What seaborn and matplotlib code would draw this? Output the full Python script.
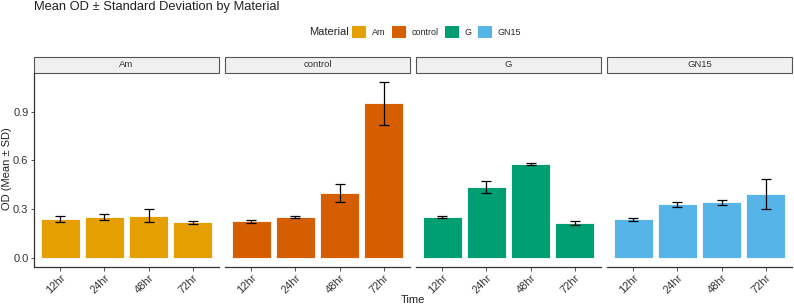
import numpy as np
import pandas as pd
import matplotlib
matplotlib.use('Agg')
import matplotlib.pyplot as plt
import seaborn as sns
from matplotlib.patches import Rectangle, Patch

# values
materials = ['Am', 'control', 'G', 'GN15']
times = ['12hr', '24hr', '48hr', '72hr']
mean_am = [0.240, 0.251, 0.259, 0.218]
sd_am = [0.018, 0.020, 0.040, 0.011]
mean_control = [0.226, 0.251, 0.399, 0.952]
sd_control = [0.009, 0.008, 0.054, 0.133]
mean_g = [0.251, 0.436, 0.578, 0.216]
sd_g = [0.008, 0.037, 0.008, 0.013]
mean_gn15 = [0.238, 0.329, 0.341, 0.393]
sd_gn15 = [0.010, 0.016, 0.014, 0.093]
colors = ['#E69F00', '#D55E00', '#009E73', '#56B4E9']

df = pd.DataFrame({
    'Material': np.repeat(materials, len(times)),
    'Time': times * len(materials),
    'OD': mean_am + mean_control + mean_g + mean_gn15,
    'SD': sd_am + sd_control + sd_g + sd_gn15,
})

sns.set_style('white')
plt.rcParams['font.family'] = ['Liberation Sans', 'DejaVu Sans']

W, H = 794, 306
fig = plt.figure(figsize=(W / 100, H / 100), dpi=100)

lefts = [34, 225, 416, 607]
pw = 185
top_px, bot_px = 72.7, 266.7
strip_h = 15.5

for i, mat in enumerate(materials):
    ax = fig.add_axes([lefts[i] / W, 1 - bot_px / H, pw / W, (bot_px - top_px) / H])
    sub = df[df['Material'] == mat]
    sns.barplot(data=sub, x='Time', y='OD', order=times, color=colors[i],
                width=0.9, errorbar=None, saturation=1, ax=ax,
                edgecolor='white', linewidth=0.6)
    ax.errorbar(np.arange(len(times)), sub['OD'].values, yerr=sub['SD'].values,
                fmt='none', ecolor='black', elinewidth=0.9, capsize=3.6, capthick=0.9)
    ax.set_xlim(-0.6, 3.6)
    ax.set_ylim(-0.055, 1.14)
    ax.set_xlabel('')
    ax.set_ylabel('')
    for s in ['top', 'right']:
        ax.spines[s].set_visible(False)
    ax.spines['bottom'].set_color('#333333')
    ax.spines['bottom'].set_linewidth(0.9)
    ax.tick_params(axis='x', length=3, width=0.6, color='#333333', labelsize=8,
                   labelcolor='#333333', rotation=45, pad=1, bottom=True)
    for lab in ax.get_xticklabels():
        lab.set_ha('right')
        lab.set_rotation_mode('anchor')
    if i == 0:
        ax.spines['left'].set_color('#333333')
        ax.spines['left'].set_linewidth(0.9)
        ax.set_yticks([0.0, 0.3, 0.6, 0.9])
        ax.set_yticklabels(['0.0', '0.3', '0.6', '0.9'])
        ax.tick_params(axis='y', length=2.5, width=0.6, color='#333333', labelsize=8,
                       labelcolor='#333333', pad=1.5, left=True)
    else:
        ax.spines['left'].set_visible(False)
        ax.set_yticks([])
    # facet strip
    sh = strip_h / (bot_px - top_px)
    ax.add_patch(Rectangle((0, 1.0), 1, sh, transform=ax.transAxes, clip_on=False,
                           facecolor='#F0F0F0', edgecolor='#555555', linewidth=0.8))
    ax.text(0.5, 1.0 + sh / 2, mat, transform=ax.transAxes, ha='center', va='center',
            fontsize=6.8, color='#333333')

fig.text(34 / W, 1 - 7 / H, 'Mean OD \u00b1 Standard Deviation by Material',
         ha='left', va='center', fontsize=9.3, color='#222222')
fig.text(413 / W, 1 - 300 / H, 'Time', ha='center', va='center', fontsize=8, color='#222222')
fig.text(7 / W, 1 - 169 / H, 'OD (Mean \u00b1 SD)', rotation=90, ha='center', va='center',
         fontsize=8, color='#222222')

handles = [Patch(facecolor=c, edgecolor='none') for c in colors]
fig.text(309 / W, 1 - 32 / H, 'Material', ha='left', va='center', fontsize=8, color='#222222')
fig.legend(handles, materials, loc='center left', bbox_to_anchor=(352 / W, 1 - 32 / H),
           ncol=4, frameon=False, fontsize=6.5, handlelength=1.55, handleheight=1.55,
           handletextpad=0.65, columnspacing=0.7, borderaxespad=0, borderpad=0)

fig.savefig('out.png', dpi=100)
